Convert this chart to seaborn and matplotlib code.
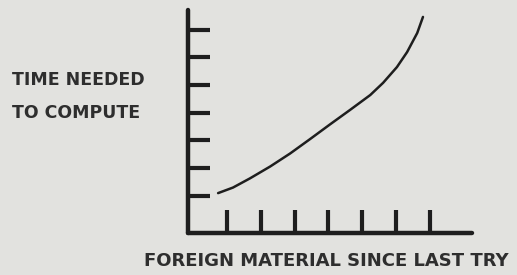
import pandas as pd
import seaborn as sns
from matplotlib import pyplot as plt

# curve (arbitrary units, axis ticks at 1..7)
foreign_material = [0.74, 1.18, 1.68, 2.28, 2.87, 3.46, 4.05, 4.64, 5.24,
                    5.62, 6.03, 6.33, 6.63, 6.80]
time_needed = [1.10, 1.30, 1.63, 2.06, 2.53, 3.05, 3.58, 4.10, 4.64,
               5.08, 5.65, 6.19, 6.88, 7.46]
x_ticks = [1, 2, 3, 4, 5, 6, 7]
y_ticks = [1, 2, 3, 4, 5, 6, 7]

paper = "#e2e2df"
ink = "#1e1e1e"
text_ink = "#2e2e2e"

sns.set_style("white", {"axes.facecolor": paper, "figure.facecolor": paper})
plt.rcParams["font.family"] = ["DejaVu Sans"]

fig = plt.figure(figsize=(5.17, 2.75), dpi=100)
ax = fig.add_axes([188 / 517, 42 / 275, 284 / 517, 223 / 275])

df = pd.DataFrame({"material": foreign_material, "time": time_needed})
sns.lineplot(data=df, x="material", y="time", ax=ax, color=ink, linewidth=1.8,
             sort=False, estimator=None, solid_capstyle="round",
             solid_joinstyle="round")

ax.set_xlim(-0.15, 8.25)
ax.set_ylim(-0.34, 7.71)
ax.set_xticks(x_ticks)
ax.set_yticks(y_ticks)
ax.set_xticklabels([])
ax.set_yticklabels([])
ax.set_xlabel("")
ax.set_ylabel("")
ax.tick_params(axis="x", direction="in", length=16.5, width=3, color=ink, bottom=True)
ax.tick_params(axis="y", direction="in", length=16, width=3, color=ink, left=True)

for side in ["top", "right"]:
    ax.spines[side].set_visible(False)
for side in ["left", "bottom"]:
    ax.spines[side].set_linewidth(3.2)
    ax.spines[side].set_color(ink)
    ax.spines[side].set_capstyle("round")

fig.text(12 / 517, 1 - 80 / 275, "TIME NEEDED", fontsize=12.5, weight="bold",
         color=text_ink, ha="left", va="center")
fig.text(12 / 517, 1 - 113 / 275, "TO COMPUTE", fontsize=12.5, weight="bold",
         color=text_ink, ha="left", va="center")
fig.text(326 / 517, 1 - 261 / 275, "FOREIGN MATERIAL SINCE LAST TRY", fontsize=13,
         weight="bold", color=text_ink, ha="center", va="center")

plt.savefig("out.png", dpi=100, facecolor=paper)
plt.close()
